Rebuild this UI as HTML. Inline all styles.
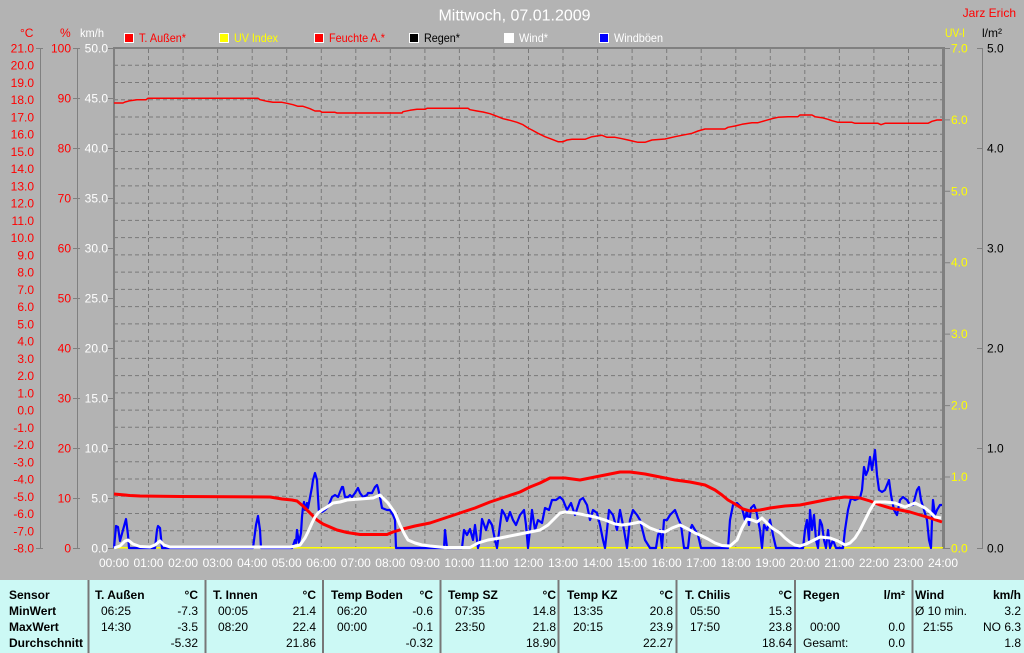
<!DOCTYPE html>
<html><head><meta charset="utf-8"><style>
html,body{margin:0;padding:0;background:#b3b3b3;}
svg{display:block;font-family:"Liberation Sans",sans-serif;}
</style></head><body>
<svg width="1024" height="653" viewBox="0 0 1024 653" xmlns="http://www.w3.org/2000/svg">
<rect x="0" y="0" width="1024" height="653" fill="#b3b3b3"/>

<!-- title -->
<text x="514.5" y="20.5" font-size="16" fill="#ffffff" text-anchor="middle">Mittwoch, 07.01.2009</text>
<text x="1016" y="17" font-size="12" fill="#ff0000" text-anchor="end">Jarz Erich</text>

<!-- legend -->
<g font-size="12">
<rect x="124.5" y="33.5" width="9" height="9" fill="#ff0000" stroke="#ffffff"/>
<text x="139" y="42" fill="#ff0000" textLength="47" lengthAdjust="spacingAndGlyphs">T. Außen*</text>
<rect x="219.5" y="33.5" width="9" height="9" fill="#ffff00" stroke="#ffffff"/>
<text x="234" y="42" fill="#ffff00" textLength="44" lengthAdjust="spacingAndGlyphs">UV Index</text>
<rect x="314.5" y="33.5" width="9" height="9" fill="#ff0000" stroke="#ffffff"/>
<text x="329" y="42" fill="#ff0000" textLength="56" lengthAdjust="spacingAndGlyphs">Feuchte A.*</text>
<rect x="409.5" y="33.5" width="9" height="9" fill="#000000" stroke="#ffffff"/>
<text x="424" y="42" fill="#000000" textLength="36" lengthAdjust="spacingAndGlyphs">Regen*</text>
<rect x="504.5" y="33.5" width="9" height="9" fill="#ffffff" stroke="#ffffff"/>
<text x="519" y="42" fill="#ffffff" textLength="29" lengthAdjust="spacingAndGlyphs">Wind*</text>
<rect x="599.5" y="33.5" width="9" height="9" fill="#0000ff" stroke="#ffffff"/>
<text x="614" y="42" fill="#ffffff" textLength="49" lengthAdjust="spacingAndGlyphs">Windböen</text>
</g>

<!-- axis headers -->
<g font-size="12">
<text x="20" y="37" fill="#ff0000">°C</text>
<text x="60" y="37" fill="#ff0000">%</text>
<text x="80" y="37" fill="#ffffff" textLength="24" lengthAdjust="spacingAndGlyphs">km/h</text>
<text x="945" y="37" fill="#ffff00" textLength="20" lengthAdjust="spacingAndGlyphs">UV-I</text>
<text x="982" y="37" fill="#000000">l/m²</text>
</g>

<!-- grid -->
<g stroke="#7a7a7a" stroke-width="1" stroke-dasharray="4,3" fill="none">
<path d="M114,65.24H943M114,82.48H943M114,99.72H943M114,116.97H943M114,134.21H943M114,151.45H943M114,168.69H943M114,185.93H943M114,203.17H943M114,220.41H943M114,237.66H943M114,254.9H943M114,272.14H943M114,289.38H943M114,306.62H943M114,323.86H943M114,341.1H943M114,358.34H943M114,375.59H943M114,392.83H943M114,410.07H943M114,427.31H943M114,444.55H943M114,461.79H943M114,479.03H943M114,496.28H943M114,513.52H943M114,530.76H943"/>
<path d="M148.5,49V548M183.1,49V548M217.6,49V548M252.2,49V548M286.7,49V548M321.3,49V548M355.8,49V548M390.3,49V548M424.9,49V548M459.4,49V548M494,49V548M528.5,49V548M563,49V548M597.6,49V548M632.1,49V548M666.7,49V548M701.2,49V548M735.8,49V548M770.3,49V548M804.8,49V548M839.4,49V548M873.9,49V548M908.5,49V548"/>
</g>

<!-- frame -->
<g stroke="#808080" fill="none">
<line x1="113" y1="48" x2="945" y2="48" stroke-width="2"/>
<line x1="114" y1="47" x2="114" y2="549" stroke-width="2"/>
<line x1="943.5" y1="47" x2="943.5" y2="549" stroke-width="3"/>
<!-- left axes -->
<line x1="40.5" y1="48" x2="40.5" y2="548"/>
<line x1="36" y1="48.5" x2="43" y2="48.5"/>
<line x1="36" y1="548.5" x2="43" y2="548.5"/>
<line x1="77.5" y1="48" x2="77.5" y2="548"/>
<path d="M73,48.5H80M73,98.5H80M73,148.5H80M73,198.5H80M73,248.5H80M73,298.5H80M73,348.5H80M73,398.5H80M73,448.5H80M73,498.5H80M73,548.5H80"/>
<path d="M108,48.5H114M108,98.5H114M108,148.5H114M108,198.5H114M108,248.5H114M108,298.5H114M108,348.5H114M108,398.5H114M108,448.5H114M108,498.5H114M108,548.5H114"/>
<!-- right axes -->
<path d="M944,48.5H950M944,119.9H950M944,191.3H950M944,262.7H950M944,334.1H950M944,405.6H950M944,477H950M944,548.5H950"/>
<line x1="982.5" y1="48" x2="982.5" y2="548"/>
<path d="M977,48.5H983M977,148.5H983M977,248.5H983M977,348.5H983M977,448.5H983M977,548.5H983"/>
</g>

<!-- °C labels -->
<g font-size="12" fill="#ff0000" text-anchor="end">
<text x="34" y="52.5">21.0</text><text x="34" y="69.7">20.0</text><text x="34" y="87">19.0</text><text x="34" y="104.2">18.0</text><text x="34" y="121.5">17.0</text><text x="34" y="138.7">16.0</text><text x="34" y="156">15.0</text><text x="34" y="173.2">14.0</text><text x="34" y="190.4">13.0</text><text x="34" y="207.7">12.0</text><text x="34" y="224.9">11.0</text><text x="34" y="242.2">10.0</text><text x="34" y="259.4">9.0</text><text x="34" y="276.6">8.0</text><text x="34" y="293.9">7.0</text><text x="34" y="311.1">6.0</text><text x="34" y="328.4">5.0</text><text x="34" y="345.6">4.0</text><text x="34" y="362.8">3.0</text><text x="34" y="380.1">2.0</text><text x="34" y="397.3">1.0</text><text x="34" y="414.6">0.0</text><text x="34" y="431.8">-1.0</text><text x="34" y="449">-2.0</text><text x="34" y="466.3">-3.0</text><text x="34" y="483.5">-4.0</text><text x="34" y="500.8">-5.0</text><text x="34" y="518">-6.0</text><text x="34" y="535.3">-7.0</text><text x="34" y="552.5">-8.0</text>
</g>
<!-- % labels -->
<g font-size="12" fill="#ff0000" text-anchor="end">
<text x="71" y="52.5">100</text><text x="71" y="102.5">90</text><text x="71" y="152.5">80</text><text x="71" y="202.5">70</text><text x="71" y="252.5">60</text><text x="71" y="302.5">50</text><text x="71" y="352.5">40</text><text x="71" y="402.5">30</text><text x="71" y="452.5">20</text><text x="71" y="502.5">10</text><text x="71" y="552.5">0</text>
</g>
<!-- km/h labels -->
<g font-size="12" fill="#ffffff" text-anchor="end">
<text x="108" y="52.5">50.0</text><text x="108" y="102.5">45.0</text><text x="108" y="152.5">40.0</text><text x="108" y="202.5">35.0</text><text x="108" y="252.5">30.0</text><text x="108" y="302.5">25.0</text><text x="108" y="352.5">20.0</text><text x="108" y="402.5">15.0</text><text x="108" y="452.5">10.0</text><text x="108" y="502.5">5.0</text><text x="108" y="552.5">0.0</text>
</g>
<!-- UV labels -->
<g font-size="12" fill="#ffff00">
<text x="951" y="52.5">7.0</text><text x="951" y="123.9">6.0</text><text x="951" y="195.3">5.0</text><text x="951" y="266.7">4.0</text><text x="951" y="338.1">3.0</text><text x="951" y="409.6">2.0</text><text x="951" y="481">1.0</text><text x="951" y="552.5">0.0</text>
</g>
<!-- l/m2 labels -->
<g font-size="12" fill="#000000">
<text x="987" y="52.5">5.0</text><text x="987" y="152.5">4.0</text><text x="987" y="252.5">3.0</text><text x="987" y="352.5">2.0</text><text x="987" y="452.5">1.0</text><text x="987" y="552.5">0.0</text>
</g>
<!-- x labels -->
<g font-size="12" fill="#ffffff" text-anchor="middle">
<text x="114" y="567">00:00</text><text x="148.5" y="567">01:00</text><text x="183.1" y="567">02:00</text><text x="217.6" y="567">03:00</text><text x="252.2" y="567">04:00</text><text x="286.7" y="567">05:00</text><text x="321.3" y="567">06:00</text><text x="355.8" y="567">07:00</text><text x="390.3" y="567">08:00</text><text x="424.9" y="567">09:00</text><text x="459.4" y="567">10:00</text><text x="494" y="567">11:00</text><text x="528.5" y="567">12:00</text><text x="563" y="567">13:00</text><text x="597.6" y="567">14:00</text><text x="632.1" y="567">15:00</text><text x="666.7" y="567">16:00</text><text x="701.2" y="567">17:00</text><text x="735.8" y="567">18:00</text><text x="770.3" y="567">19:00</text><text x="804.8" y="567">20:00</text><text x="839.4" y="567">21:00</text><text x="873.9" y="567">22:00</text><text x="908.5" y="567">23:00</text><text x="943" y="567">24:00</text>
</g>

<!-- UV baseline -->
<line x1="114" y1="547.8" x2="943" y2="547.8" stroke="#ffff00" stroke-width="1.5"/>

<!-- humidity -->
<polyline fill="none" stroke="#ff0000" stroke-width="1.5" stroke-linejoin="round" points="114,103 123,103 125,102 130,100.7 137,99.7 146,99.7 148,98.3 258,98.3 260,99.7 267,101.3 273,102.3 282,102.3 287,103.3 293,104.7 298,106.3 303,106.3 310,108.7 315,111 320,111 322,112.3 335,112.3 337,113 402,113 403,111.7 410,110.3 417,109.3 425,109.3 427,108.3 468,108.3 470,109.7 477,111 483,112 490,113.7 497,116.3 503,118.7 510,120.3 517,122.3 523,124.7 528,128 532,130 538,133.3 545,136.7 552,139.3 558,141.7 563,141.7 567,140 572,139.3 585,139.3 592,136.7 602,135.3 607,137.3 615,137.3 622,138.7 628,140 638,142.3 645,142.3 652,140 665,139 675,136.7 685,134.7 692,133.3 698,131 705,129 725,129 728,127.3 735,126 742,124.3 752,122.7 758,122.7 765,120.7 772,118.7 778,117.3 788,116.7 798,116.7 800,115 812,115 815,116.7 822,117.7 828,119.3 832,120.7 838,122.3 852,122.3 855,123.3 878,123.3 881,124.7 885,123.3 928,123.3 932,121.3 937,120 942,120"/>

<!-- gusts -->
<polyline fill="none" stroke="#0000ff" stroke-width="2.2" stroke-linejoin="round" points="114,548 116,526 118,527 120,541 123,530 126,519 128,535 129,548 155,548 157,530 158,526 160,528 162,548 253,548 256,525 258,516 260,530 261,548 292,548 293,546 295,540 296,543 297,530 299,543 301,533 302,517 303,507 304,502 305,510 307,503 308,508 312,487 313,480 315,473 317,480 318,497 319,513 321,510 322,512 325,510 328,507 332,497 335,495 338,497 342,487 343,487 345,497 348,497 350,495 352,497 355,493 358,488 360,493 363,497 367,495 368,493 372,493 375,487 377,485 378,488 380,497 382,508 387,510 390,510 393,515 395,520 396,548 444,548 445,530 447,548 462,548 464,530 467,535 470,529 473,540 475,525 478,548 480,540 482,519 486,530 489,520 492,525 495,540 497,548 500,525 502,510 505,515 507,521 510,512 513,520 516,525 520,515 524,510 526,525 528,548 530,530 532,510 535,530 538,520 542,523 545,508 549,510 552,500 556,500 560,497 563,500 567,510 571,503 575,515 580,500 583,498 587,505 590,520 593,510 597,513 600,525 603,540 605,548 607,530 609,510 613,515 617,530 620,510 624,530 627,548 630,520 633,510 637,515 640,520 645,540 650,548 656,548 658,535 660,530 662,548 664,520 667,520 670,515 675,510 678,518 681,525 684,548 688,548 690,530 692,525 695,530 698,535 701,548 728,548 730,520 733,505 737,503 742,508 745,520 747,510 749,525 751,508 754,505 756,510 760,530 762,548 764,525 767,530 770,520 773,535 776,548 803,548 805,530 807,520 809,540 810,510 812,530 814,515 816,540 818,548 820,520 822,525 824,540 826,548 828,530 830,548 833,540 836,548 843,548 845,530 848,510 851,498 855,500 860,498 862,490 864,467 866,475 868,470 870,457 872,470 875,450 877,475 879,490 882,492 885,490 887,485 889,480 891,495 894,510 897,515 900,500 903,497 907,500 910,505 913,505 917,490 919,487 921,500 924,510 927,520 929,540 931,548 932,520 933,500 935,515 937,510 940,505 942,505"/>

<!-- temperature -->
<polyline fill="none" stroke="#ff0000" stroke-width="3" stroke-linejoin="round" points="114,494 130,495.5 140,496 180,496.5 270,497 282,499 292,500 297,501 303,506 310,513 317,520 323,524 330,527 337,530 347,532.5 360,534.5 387,534.5 393,532 403,529 415,526 430,523 445,518 460,513 475,508 490,502 505,497 520,492 530,487 540,483 550,478 565,478 580,480 595,477 605,475 620,472 630,472 645,474 660,477 675,480 690,482 705,485 715,490 722,495 728,500 735,504 743,509 750,511 760,510 770,508 785,506 800,505 815,502 830,499 845,497 860,498 870,501 880,505 890,508 900,510 910,512 920,515 930,518 942,522"/>

<!-- wind -->
<polyline fill="none" stroke="#ffffff" stroke-width="3" stroke-linejoin="round" points="114,548 120,546 125,541 128,540 133,544 140,546.5 150,547 155,545 160,541 164,545 170,547 290,547 296,546 300,545 305,538 308,532 312,523 315,517 318,513 322,510 327,507 333,503 340,502 347,500 360,499 373,498 380,495 383,498 388,503 395,513 400,525 405,535 408,540 415,543 422,545 430,546 445,547.5 470,547.5 478,543 488,540 500,538 515,535 530,532 540,530 548,525 555,518 560,513 565,512 575,513 585,515 595,517 605,520 615,524 622,525 630,524 640,522 650,528 658,531 665,532 672,528 680,525 688,529 695,533 700,535 708,539 715,543 722,545.5 730,546 737,540 742,528 747,519 752,520 757,522 762,518 767,523 772,528 780,533 785,538 790,542 795,545 800,546 806,544 812,541 820,537 830,538 838,541 845,545 850,543 855,538 860,530 865,520 870,510 875,502 885,502 895,503 905,507 915,503 925,508 930,512 935,517 941,518"/>

<!-- table -->
<rect x="0" y="580" width="1024" height="73" fill="#ccf9f5"/>
<g stroke="#777777" stroke-width="2">
<line x1="88.5" y1="580" x2="88.5" y2="653"/>
<line x1="205.5" y1="580" x2="205.5" y2="653"/>
<line x1="323" y1="580" x2="323" y2="653"/>
<line x1="440.5" y1="580" x2="440.5" y2="653"/>
<line x1="558.5" y1="580" x2="558.5" y2="653"/>
<line x1="676.5" y1="580" x2="676.5" y2="653"/>
<line x1="795" y1="580" x2="795" y2="653"/>
<line x1="912.5" y1="580" x2="912.5" y2="653"/>
</g>
<g font-size="12" fill="#000000">
<g font-weight="bold">
<text x="9" y="599">Sensor</text>
<text x="9" y="615">MinWert</text>
<text x="9" y="631">MaxWert</text>
<text x="9" y="647">Durchschnitt</text>
<text x="95" y="599">T. Außen</text><text x="198" y="599" text-anchor="end">°C</text>
<text x="213" y="599">T. Innen</text><text x="316" y="599" text-anchor="end">°C</text>
<text x="331" y="599">Temp Boden</text><text x="433" y="599" text-anchor="end">°C</text>
<text x="448" y="599">Temp SZ</text><text x="556" y="599" text-anchor="end">°C</text>
<text x="567" y="599">Temp KZ</text><text x="673" y="599" text-anchor="end">°C</text>
<text x="685" y="599">T. Chilis</text><text x="792" y="599" text-anchor="end">°C</text>
<text x="803" y="599">Regen</text><text x="905" y="599" text-anchor="end">l/m²</text>
<text x="915" y="599">Wind</text><text x="1021" y="599" text-anchor="end">km/h</text>
</g>
<text x="101" y="615">06:25</text><text x="198" y="615" text-anchor="end">-7.3</text>
<text x="101" y="631">14:30</text><text x="198" y="631" text-anchor="end">-3.5</text>
<text x="198" y="647" text-anchor="end">-5.32</text>
<text x="218" y="615">00:05</text><text x="316" y="615" text-anchor="end">21.4</text>
<text x="218" y="631">08:20</text><text x="316" y="631" text-anchor="end">22.4</text>
<text x="316" y="647" text-anchor="end">21.86</text>
<text x="337" y="615">06:20</text><text x="433" y="615" text-anchor="end">-0.6</text>
<text x="337" y="631">00:00</text><text x="433" y="631" text-anchor="end">-0.1</text>
<text x="433" y="647" text-anchor="end">-0.32</text>
<text x="455" y="615">07:35</text><text x="556" y="615" text-anchor="end">14.8</text>
<text x="455" y="631">23:50</text><text x="556" y="631" text-anchor="end">21.8</text>
<text x="556" y="647" text-anchor="end">18.90</text>
<text x="573" y="615">13:35</text><text x="673" y="615" text-anchor="end">20.8</text>
<text x="573" y="631">20:15</text><text x="673" y="631" text-anchor="end">23.9</text>
<text x="673" y="647" text-anchor="end">22.27</text>
<text x="690" y="615">05:50</text><text x="792" y="615" text-anchor="end">15.3</text>
<text x="690" y="631">17:50</text><text x="792" y="631" text-anchor="end">23.8</text>
<text x="792" y="647" text-anchor="end">18.64</text>
<text x="810" y="631">00:00</text><text x="905" y="631" text-anchor="end">0.0</text>
<text x="803" y="647">Gesamt:</text><text x="905" y="647" text-anchor="end">0.0</text>
<text x="915" y="615">Ø 10 min.</text><text x="1021" y="615" text-anchor="end">3.2</text>
<text x="923" y="631">21:55</text><text x="1021" y="631" text-anchor="end">NO 6.3</text>
<text x="1021" y="647" text-anchor="end">1.8</text>
</g>
</svg>
</body></html>
